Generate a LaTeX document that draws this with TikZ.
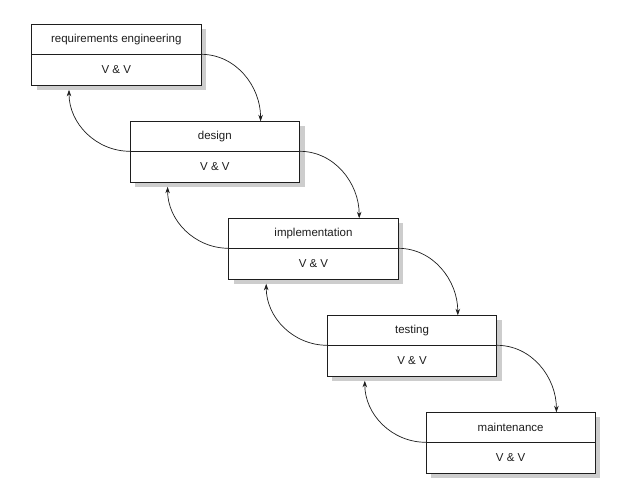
\documentclass[tikz,border=0pt]{standalone}
\usepackage{fontspec}
\setmainfont{Liberation Sans}
\usetikzlibrary{arrows.meta,calc}
\definecolor{shadowgrey}{RGB}{205,205,205}
\definecolor{linec}{RGB}{30,30,30}
\tikzset{
  part/.style={draw=linec, line width=0.8pt, fill=white, minimum width=169.5pt, inner sep=0pt, outer sep=0pt, font=\fontsize{11.5}{13}\selectfont, text=linec},
  toppart/.style={part, minimum height=30pt, anchor=north west},
  botpart/.style={part, minimum height=31pt, anchor=north},
  conn/.style={draw=linec, line width=0.7pt, -{Stealth[length=6.5pt,width=4.5pt]}}
}
\begin{document}
\begin{tikzpicture}[x=1pt,y=-1pt]
\useasboundingbox (0,0) rectangle (624,503);
\fill[white] (0,0) rectangle (624,503);
\foreach \i/\txt in {1/requirements engineering,2/design,3/implementation,4/testing,5/maintenance}{
  \pgfmathsetmacro{\lx}{31.5+98.6*(\i-1)}
  \pgfmathsetmacro{\ty}{24.3+97*(\i-1)}
  \fill[shadowgrey] (\lx+5,\ty+5) rectangle (\lx+169.5+5,\ty+61+5);
  \node[toppart] (t\i) at (\lx,\ty) {\txt};
  \node[botpart] (b\i) at (t\i.south) {V \& V};
  \coordinate (in\i) at ($(t\i.north west)+(130.5,0)$);
  \coordinate (up\i) at ($(b\i.south west)+(37.5,4.5)$);
}
\foreach \i [evaluate=\i as \j using int(\i+1)] in {1,2,3,4}{
  \draw[conn] (b\i.north east) to[out=0,in=90] (in\j);
  \draw[conn] (b\j.north west) to[out=180,in=-90] (up\i);
}
\end{tikzpicture}
\end{document}
